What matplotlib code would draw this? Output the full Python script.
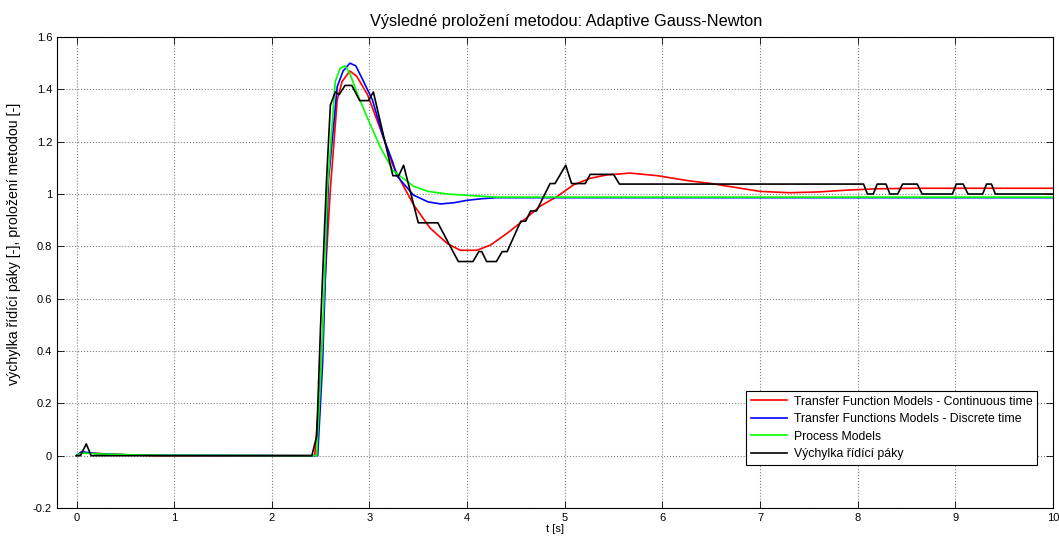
import matplotlib
matplotlib.use('Agg')
import matplotlib.pyplot as plt

plt.rcParams['font.family'] = ['Liberation Sans', 'DejaVu Sans']

# Transfer Function Models - Continuous time
tf_cont_t = [0, 0.05, 0.15, 0.4, 0.8, 2.44, 2.5, 2.55, 2.6, 2.67, 2.72, 2.8, 2.87, 2.98, 3.11,
             3.24, 3.32, 3.45, 3.62, 3.8, 3.93, 4.1, 4.24, 4.41, 4.58, 4.75, 4.92, 5.09, 5.26,
             5.43, 5.67, 5.95, 6.28, 6.5, 7.0, 7.3, 7.6, 7.9, 8.2, 8.6, 10]
tf_cont_y = [0, 0.012, 0.01, 0.005, 0, 0, 0.3, 0.7, 1.02, 1.36, 1.43, 1.47, 1.45, 1.38, 1.25,
             1.11, 1.05, 0.96, 0.87, 0.81, 0.785, 0.785, 0.805, 0.85, 0.90, 0.954, 0.99, 1.035, 1.06,
             1.073, 1.08, 1.07, 1.05, 1.04, 1.01, 1.005, 1.008, 1.015, 1.02, 1.022, 1.022]

# Transfer Functions Models - Discrete time
tf_disc_t = [0, 0.05, 0.2, 0.6, 2.47, 2.52, 2.58, 2.67, 2.73, 2.8, 2.86, 2.94, 3.03, 3.14,
             3.24, 3.28, 3.45, 3.6, 3.73, 3.87, 4.0, 4.15, 4.3, 10]
tf_disc_y = [0, 0.015, 0.008, 0.002, 0, 0.35, 1.05, 1.41, 1.47, 1.5, 1.49, 1.43, 1.36, 1.22,
             1.12, 1.07, 0.996, 0.97, 0.962, 0.967, 0.976, 0.982, 0.986, 0.986]

# Process Models
proc_t = [0, 0.05, 0.3, 0.7, 2.46, 2.52, 2.57, 2.65, 2.7, 2.75, 2.8, 2.89, 2.98, 3.11,
          3.24, 3.45, 3.6, 3.8, 4.0, 4.3, 10]
proc_y = [0, 0.01, 0.006, 0.002, 0, 0.45, 1.02, 1.43, 1.48, 1.49, 1.46, 1.37, 1.29, 1.18,
          1.09, 1.03, 1.01, 1.0, 0.995, 0.988, 0.988]

# Výchylka řídící páky (measured)
lever_t = [0, 0.04, 0.1, 0.15, 2.41, 2.46, 2.5, 2.56, 2.6, 2.65, 2.69, 2.75, 2.82, 2.9, 2.99,
           3.04, 3.24, 3.3, 3.35, 3.5, 3.7, 3.91, 4.06, 4.12, 4.15, 4.2, 4.3, 4.36, 4.41,
           4.55, 4.6, 4.65, 4.71, 4.85, 4.9, 5.01, 5.07, 5.21, 5.26, 5.5, 5.56, 8.06, 8.1,
           8.16, 8.2, 8.29, 8.33, 8.41, 8.46, 8.61, 8.66, 8.97, 9.01, 9.08, 9.13, 9.28, 9.32,
           9.37, 9.41, 10]
lever_y = [0, 0, 0.045, 0, 0, 0.075, 0.5, 1.05, 1.34, 1.39, 1.38, 1.415, 1.415, 1.357, 1.357,
           1.39, 1.07, 1.07, 1.11, 0.89, 0.89, 0.742, 0.742, 0.78, 0.78, 0.742, 0.742, 0.78, 0.78,
           0.896, 0.896, 0.935, 0.935, 1.04, 1.04, 1.11, 1.04, 1.04, 1.075, 1.075, 1.038, 1.038, 1.0,
           1.0, 1.038, 1.038, 1.0, 1.0, 1.038, 1.038, 1.0, 1.0, 1.038, 1.038, 1.0, 1.0, 1.038,
           1.038, 1.0, 1.0]

x_ticks = list(range(0, 11))
y_ticks = [-0.2, 0, 0.2, 0.4, 0.6, 0.8, 1, 1.2, 1.4, 1.6]
y_tick_labels = ['-0.2', '0', '0.2', '0.4', '0.6', '0.8', '1', '1.2', '1.4', '1.6']

fig = plt.figure(figsize=(10.59, 5.42), dpi=100)
ax = fig.add_axes([0.0538, 0.0627, 0.9405, 0.869])

ax.plot(tf_cont_t, tf_cont_y, color='#ff0000', lw=1.2, label='Transfer Function Models - Continuous time')
ax.plot(tf_disc_t, tf_disc_y, color='#0000ff', lw=1.2, label='Transfer Functions Models - Discrete time')
ax.plot(proc_t, proc_y, color='#00ff00', lw=1.2, label='Process Models')
ax.plot(lever_t, lever_y, color='black', lw=1.2, label='Výchylka řídící páky')

ax.set_xlim(-0.2, 10)
ax.set_ylim(-0.2, 1.6)
ax.set_xticks(x_ticks)
ax.set_yticks(y_ticks)
ax.set_yticklabels(y_tick_labels)
ax.tick_params(direction='in', top=True, right=True, length=5, width=0.6, labelsize=8)
ax.grid(True, color='#808080', linestyle=':', linewidth=0.8)
for s in ax.spines.values():
    s.set_linewidth(0.8)

ax.set_title('Výsledné proložení metodou: Adaptive Gauss-Newton', fontsize=11.8, pad=8, x=0.511)
ax.set_xlabel('t [s]', fontsize=8, labelpad=1)
ax.set_ylabel('výchylka řídící páky [-], proložení metodou [-]', fontsize=10.2, labelpad=3)
ax.yaxis.set_label_coords(-0.036, 0.56)

leg = ax.legend(loc='lower right', bbox_to_anchor=(0.984, 0.091), borderaxespad=0,
                fontsize=8.8, fancybox=False, framealpha=1, edgecolor='black',
                handlelength=3.0, handletextpad=0.5, labelspacing=0.45, borderpad=0.4)
leg.get_frame().set_linewidth(0.8)

plt.savefig('out.png', dpi=100)
plt.close()
